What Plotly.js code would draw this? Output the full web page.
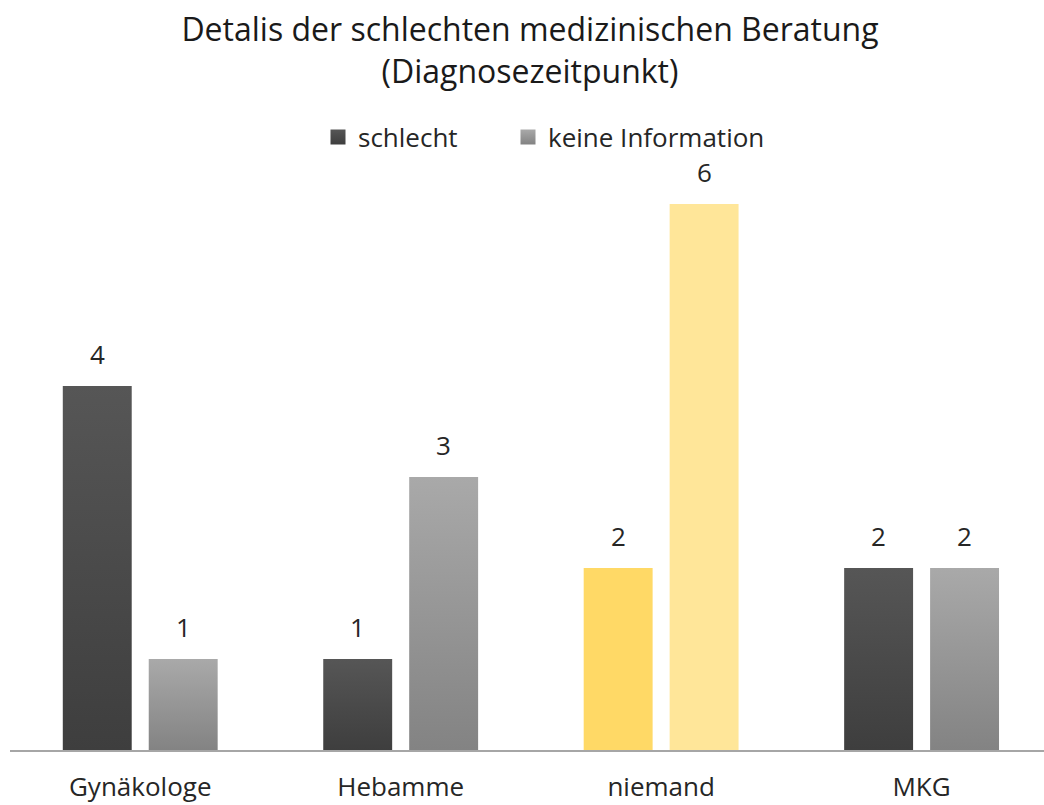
<!DOCTYPE html>
<html>
<head>
<meta charset="utf-8">
<script src="https://cdn.plot.ly/plotly-3.0.1.min.js"></script>
<style>html,body{margin:0;padding:0;background:#fff;}#chart{width:1044px;height:805px;}</style>
</head>
<body>
<div id="chart"></div>
<script>
const categories = ["Gynäkologe", "Hebamme", "niemand", "MKG"];
const schlecht = [4, 1, 2, 2];
const keineInformation = [1, 3, 6, 2];
const seriesNames = ["schlecht", "keine Information"];
const colorsSchlecht = ["#4a4a4a", "#4a4a4a", "#FFD966", "#4a4a4a"];
const colorsKeine = ["#979797", "#979797", "#FFE699", "#979797"];

const font = "Open Sans, Noto Sans, sans-serif";
const BARGAP = 0.34;
const slot = (1 - BARGAP) / 2;

const traces = [
  { type: "bar", name: seriesNames[0], x: categories, y: schlecht, marker: { color: colorsSchlecht }, legend: "legend" },
  { type: "bar", name: seriesNames[1], x: categories, y: keineInformation, marker: { color: colorsKeine }, legend: "legend2" }
];

const annotations = [];
[schlecht, keineInformation].forEach((vals, t) => {
  vals.forEach((v, i) => {
    annotations.push({
      x: i + (t === 0 ? -slot / 2 : slot / 2), y: v, xref: "x", yref: "y",
      text: String(v), showarrow: false, yanchor: "bottom", yshift: 12,
      font: { size: 26, color: "#262626", family: font }
    });
  });
});

const legendBase = {
  orientation: "h", xref: "container", xanchor: "left",
  y: 1 - 137 / 805, yref: "container", yanchor: "middle",
  font: { size: 26, color: "#262626", family: font }, bgcolor: "rgba(0,0,0,0)"
};

const layout = {
  width: 1044, height: 805,
  margin: { l: 10, r: 0, t: 180, b: 55 },
  paper_bgcolor: "#fff", plot_bgcolor: "#fff",
  font: { family: font, color: "#262626" },
  title: {
    text: "Detalis der schlechten medizinischen Beratung<br>(Diagnosezeitpunkt)",
    font: { size: 32, color: "#1a1a1a", family: font },
    x: 530 / 1044, xref: "container", xanchor: "center",
    y: 1 - 41 / 805, yref: "container", yanchor: "middle"
  },
  barmode: "group",
  bargap: BARGAP,
  bargroupgap: 0.198,
  showlegend: true,
  legend: Object.assign({}, legendBase, { x: 318 / 1044 }),
  legend2: Object.assign({}, legendBase, { x: 508 / 1044 }),
  annotations: annotations,
  xaxis: {
    range: [-0.5, 3.47],
    showline: true, linecolor: "#a6a6a6", linewidth: 2,
    ticks: "", showgrid: false, zeroline: false,
    tickfont: { size: 26, color: "#262626", family: font },
    ticklabelstandoff: 13
  },
  yaxis: {
    range: [0, 570 / 91],
    showticklabels: false, showgrid: false, zeroline: false, showline: false, ticks: ""
  }
};

Plotly.newPlot("chart", traces, layout, { displayModeBar: false, staticPlot: true }).then(gd => {
  // vertical gradients like the original gray bars
  const svg = gd.querySelector("svg.main-svg");
  const ns = "http://www.w3.org/2000/svg";
  let defs = svg.querySelector("defs");
  const grads = { "rgb(74, 74, 74)": ["#565656", "#3e3e3e", "gDark"], "rgb(151, 151, 151)": ["#a9a9a9", "#838383", "gLight"] };
  Object.values(grads).forEach(([c1, c2, id]) => {
    const lg = document.createElementNS(ns, "linearGradient");
    lg.setAttribute("id", id); lg.setAttribute("x1", "0"); lg.setAttribute("y1", "0");
    lg.setAttribute("x2", "0"); lg.setAttribute("y2", "1");
    [[0, c1], [1, c2]].forEach(([o, c]) => {
      const s = document.createElementNS(ns, "stop");
      s.setAttribute("offset", o); s.setAttribute("stop-color", c);
      lg.appendChild(s);
    });
    defs.appendChild(lg);
  });
  gd.querySelectorAll(".point path, .legendpoints path").forEach(p => {
    const f = p.style.fill;
    if (grads[f]) p.style.fill = "url(#" + grads[f][2] + ")";
  });
  gd.querySelectorAll(".legendpoints path").forEach(p => {
    p.setAttribute("d", "M7.5,7.5H-7.5V-7.5H7.5Z");
  });
});
</script>
</body>
</html>
